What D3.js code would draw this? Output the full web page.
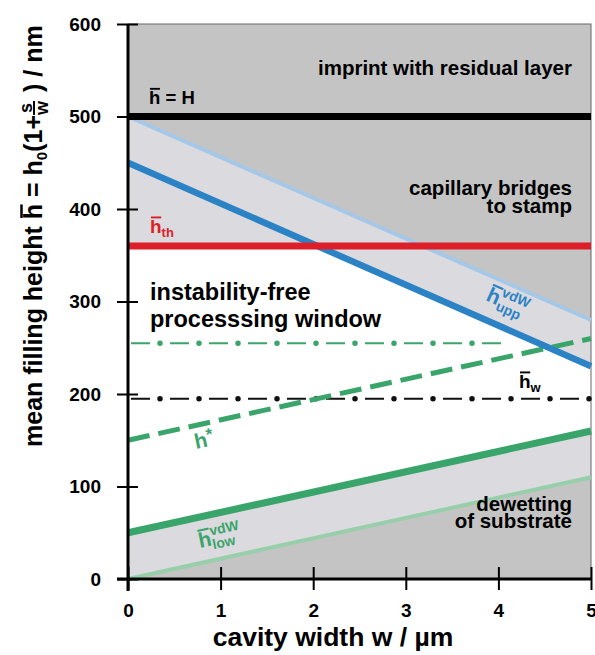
<!DOCTYPE html>
<html>
<head>
<meta charset="utf-8">
<script src="https://cdn.jsdelivr.net/npm/d3@7"></script>
<style>
  body { margin: 0; background: #fff; }
  svg { font-family: "Liberation Sans", Arial, sans-serif; font-weight: bold; }
  svg text { white-space: pre; }
</style>
</head>
<body>
<svg id="chart" width="595" height="655"></svg>
<script>
// Data (w in µm, h in nm)
const wTicks = [0, 1, 2, 3, 4, 5]
const hTicks = [0, 100, 200, 300, 400, 500, 600]
const wEnds = [0, 5]
const levelH = 500          // h = H
const levelTh = 360         // h_th
const levelW = 195          // h_w
const levelGreen = 255      // green dash-dot
const greenEnd = [0, 4.12]
const uppOuter = [500, 280] // light blue
const uppInner = [450, 230] // dark blue
const lowInner = [50, 160]  // dark green
const lowOuter = [0, 110]   // light green
const hStar = [150, 260]    // green dashed

const col = {
  dark: "#c4c4c4", light: "#dbdadf", red: "#dc1f28",
  blue: "#2b83c6", lblue: "#a6c8e8", green: "#3aa56a", lgreen: "#98cfab"
}

const svg = d3.select("#chart")
const x = d3.scaleLinear().domain([0, 5]).range([128, 591])
const y = d3.scaleLinear().domain([0, 600]).range([579, 24])

// pair up endpoints of a straight series
const pts = vals => wEnds.map((w, i) => [w, vals[i]])

const under = d3.area().x(d => x(d[0])).y0(y(0)).y1(d => y(d[1]))
const line = d3.line().x(d => x(d[0])).y(d => y(d[1]))

svg.append("defs").append("clipPath").attr("id", "belowBlue")
   .append("path").attr("d", under(pts(uppInner)))

// background regions
svg.append("rect").attr("x", x(0)).attr("y", y(600))
   .attr("width", x(5) - x(0)).attr("height", y(0) - y(600)).attr("fill", col.dark)
svg.append("path").attr("d", under(pts(uppOuter))).attr("fill", col.light)
svg.append("rect").attr("clip-path", "url(#belowBlue)")
   .attr("x", x(0)).attr("y", y(levelTh))
   .attr("width", x(5) - x(0)).attr("height", y(0) - y(levelTh)).attr("fill", "#fff")
svg.append("path").attr("d", under(pts(lowInner))).attr("fill", col.light)
svg.append("path").attr("d", under(pts(lowOuter))).attr("fill", col.dark)

// frame
svg.append("rect").attr("x", x(0)).attr("y", y(600))
   .attr("width", x(5) - x(0)).attr("height", y(0) - y(600))
   .attr("fill", "none").attr("stroke", "#666").attr("stroke-width", 1)

// dash-dot levels
function dashDot(level, wr, color) {
  const d = line([[wr[0], level], [wr[1], level]])
  svg.append("path").attr("d", d).attr("stroke", color).attr("stroke-width", 2)
     .attr("stroke-dasharray", "19 20").attr("stroke-dashoffset", 36)
  svg.append("path").attr("d", d).attr("stroke", color).attr("stroke-width", 5.5)
     .attr("stroke-linecap", "round")
     .attr("stroke-dasharray", "0 39").attr("stroke-dashoffset", 7)
}
dashDot(levelGreen, greenEnd, col.green)
dashDot(levelW, wEnds, "#111")

// sloped lines
svg.append("path").attr("d", line(pts(hStar))).attr("fill", "none")
   .attr("stroke", col.green).attr("stroke-width", 5).attr("stroke-dasharray", "22 9")
svg.append("path").attr("d", line(pts(lowOuter))).attr("stroke", col.lgreen).attr("stroke-width", 4)
svg.append("path").attr("d", line(pts(lowInner))).attr("stroke", col.green).attr("stroke-width", 7)
svg.append("path").attr("d", line(pts(uppOuter))).attr("stroke", col.lblue).attr("stroke-width", 4)
svg.append("path").attr("d", line(pts(uppInner))).attr("stroke", col.blue).attr("stroke-width", 6.5)

// horizontal levels
svg.append("path").attr("d", line([[0, levelTh], [5, levelTh]])).attr("stroke", col.red).attr("stroke-width", 7)
svg.append("path").attr("d", line([[0, levelH], [5, levelH]])).attr("stroke", "#000").attr("stroke-width", 7)

// axes
const yAxis = svg.append("g").attr("transform", `translate(${x(0)},0)`)
  .call(d3.axisLeft(y).tickValues(hTicks).tickFormat(d3.format("d")).tickSize(11).tickPadding(16))
const xAxis = svg.append("g").attr("transform", `translate(0,${y(0)})`)
  .call(d3.axisBottom(x).tickValues(wTicks).tickFormat(d3.format("d")).tickSize(11).tickPadding(14))
yAxis.select(".domain").remove()
xAxis.select(".domain").remove()
yAxis.selectAll(".tick line").attr("x1", 10).attr("stroke-width", 2)
xAxis.selectAll(".tick line").attr("y1", -12).attr("stroke-width", 2)
svg.selectAll(".tick text").attr("font-size", 19).attr("font-family", null).attr("fill", "#000")
svg.append("line").attr("x1", x(0)).attr("x2", x(0)).attr("y1", y(600)).attr("y2", y(0) + 12)
   .attr("stroke", "#000").attr("stroke-width", 3)
svg.append("line").attr("x1", x(0) - 11).attr("x2", x(5)).attr("y1", y(0)).attr("y2", y(0))
   .attr("stroke", "#000").attr("stroke-width", 3)

// rich text: sequence of pieces, with optional overbar, sub/sup stacks, fractions
function rich(tx, ty, rot, size, fill, pieces) {
  const g = svg.append("g").attr("transform", `translate(${tx},${ty}) rotate(${rot})`).attr("fill", fill)
  let cx = 0
  const put = (s, fs, px, py, anchor) => {
    const t = g.append("text").attr("x", px).attr("y", py).attr("font-size", fs).text(s)
    if (anchor) t.attr("text-anchor", anchor)
    return t.node().getComputedTextLength()
  }
  pieces.forEach(p => {
    if (typeof p === "string") p = { t: p }
    const fs = p.size || size
    if (p.stack) {
      const w1 = put(p.stack[0], fs, cx, p.dy[0])
      const w2 = put(p.stack[1], fs, cx, p.dy[1])
      cx += Math.max(w1, w2)
    } else if (p.frac) {
      put(p.frac[0], fs, cx + p.fw / 2, p.dy[0], "middle")
      put(p.frac[1], fs, cx + p.fw / 2, p.dy[1], "middle")
      g.append("line").attr("x1", cx).attr("x2", cx + p.fw).attr("y1", p.dy[2]).attr("y2", p.dy[2])
       .attr("stroke", fill).attr("stroke-width", 2)
      cx += p.fw + 2
    } else {
      const w = put(p.t, fs, cx, p.dy || 0)
      if (p.bar) {
        g.append("line").attr("x1", cx + fs * 0.05).attr("x2", cx + w - fs * 0.02)
         .attr("y1", -fs * 0.82).attr("y2", -fs * 0.82)
         .attr("stroke", fill).attr("stroke-width", fs * 0.1)
      }
      cx += w
    }
  })
  return g
}

// axis titles
rich(42, 447, -90, 25, "#000", [
  "mean filling height ", { t: "h", bar: true }, " = h", { t: "0", size: 15, dy: 5 },
  "(1+", { frac: ["s", "w"], size: 18, fw: 14, dy: [-10, 6, -8] }, " ) / nm"
])
svg.append("text").attr("x", 333).attr("y", 646).attr("text-anchor", "middle")
   .attr("font-size", 26.5).text("cavity width w / µm")

// region labels
function block(lines, xr, y0, lh, size, anchor) {
  const t = svg.append("text").attr("font-size", size).attr("text-anchor", anchor)
  lines.forEach((s, i) => t.append("tspan").attr("x", xr).attr("y", y0 + i * lh).text(s))
}
block(["imprint with residual layer"], 572, 75, 0, 20.5, "end")
block(["capillary bridges", "to stamp"], 572, 195, 17.5, 20.5, "end")
block(["instability-free", "processsing window"], 150, 300, 27, 23.5, "start")
block(["dewetting", "of substrate"], 572, 511, 16.5, 20.5, "end")

// line labels
rich(149, 104, 0, 18.5, "#000", [{ t: "h", bar: true }, " = H"])
rich(150, 233, 0, 19, col.red, [{ t: "h", bar: true }, { t: "th", size: 13, dy: 4 }])
rich(519, 388, 0, 19, "#000", [{ t: "h", bar: true }, { t: "w", size: 13, dy: 4 }])
rich(485, 300, 24, 21, col.blue, [{ t: "h", bar: true }, { stack: ["vdW", "upp"], size: 14, dy: [-10, 5] }])
rich(196, 449, -12, 21, col.green, ["h", { t: "*", size: 17, dy: -6 }])
rich(200, 548, -12, 21, col.green, [{ t: "h", bar: true }, { stack: ["vdW", "low"], size: 14, dy: [-10, 4] }])
</script>
</body>
</html>
